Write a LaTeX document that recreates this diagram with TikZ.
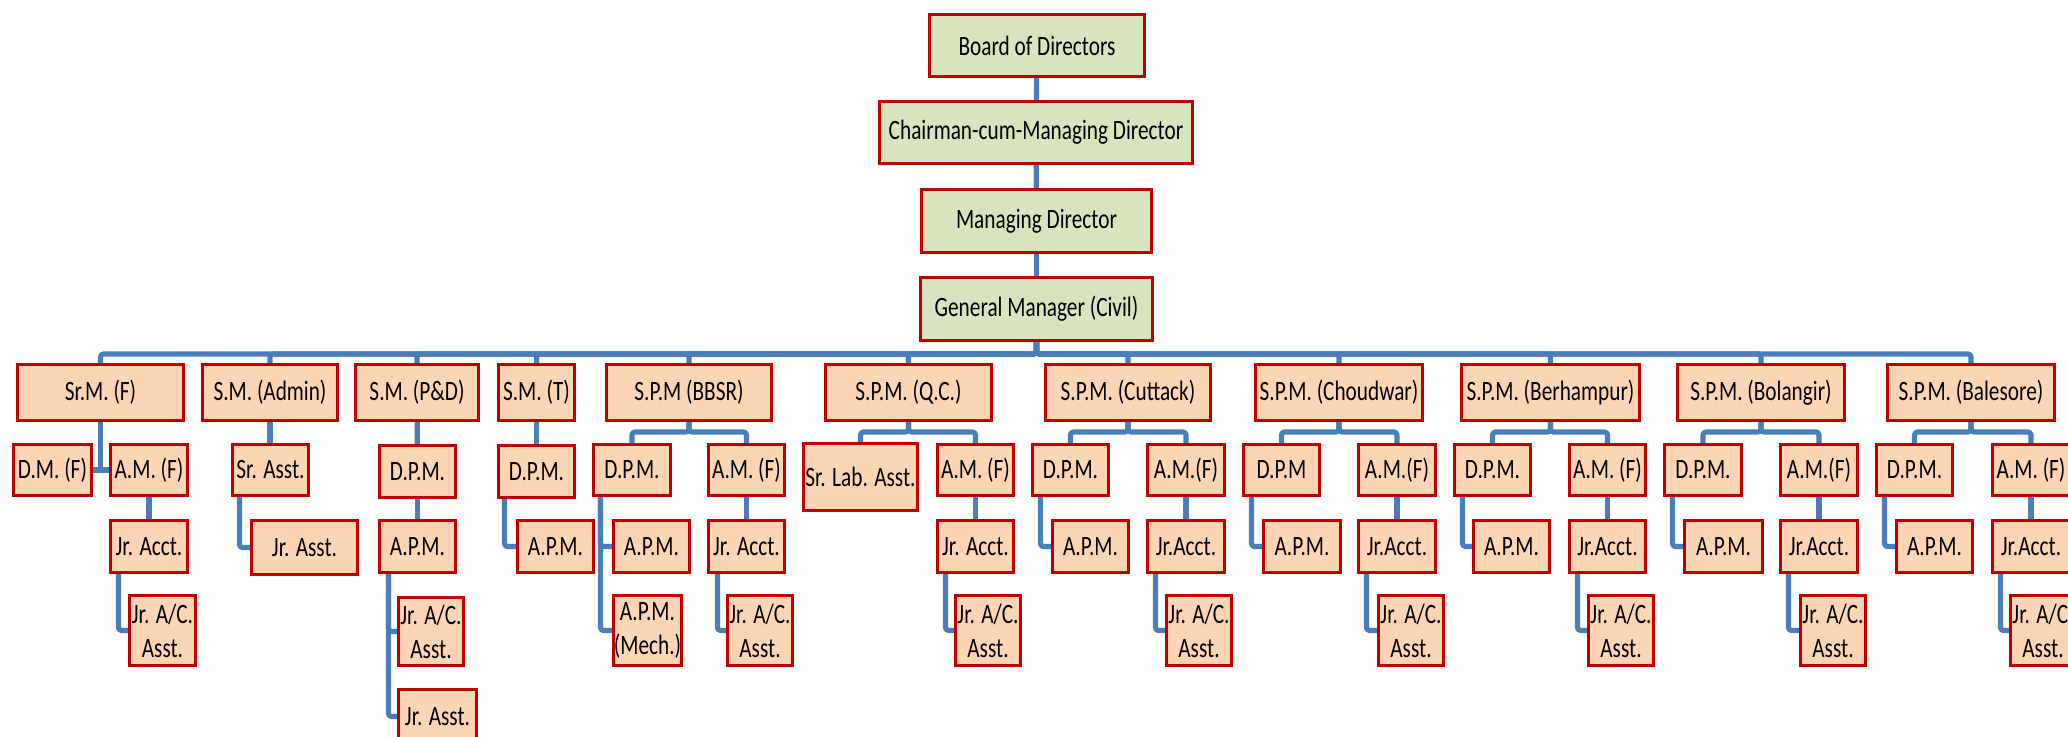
\documentclass[tikz,border=0pt]{standalone}
\usepackage{fontspec}
\setmainfont{Carlito}[FakeStretch=0.76]
\usetikzlibrary{backgrounds}
\definecolor{linkblue}{HTML}{4A7EBB}
\definecolor{boxred}{HTML}{C00000}
\definecolor{peach}{HTML}{FCD5B5}
\definecolor{sage}{HTML}{D7E4BD}
\tikzset{
  unit/.style={draw=boxred, line width=3pt, inner sep=0pt, outer sep=0pt,
    align=center, font=\fontsize{28}{34}\selectfont},
  staff/.style={unit, fill=peach},
  board/.style={unit, fill=sage},
  link/.style={draw=linkblue, line width=5.2pt, rounded corners=3pt, line join=round},
}
% \unitbox{style}{name}{left}{top}{right}{bottom}{text}
\newcommand\unitbox[7]{%
  \node[#1, minimum width={#5-#3-3}, minimum height={#6-#4-3}]
    (#2) at ({(#3+#5)/2},{(#4+#6)/2}) {#7};}
\begin{document}
\begin{tikzpicture}[x=1pt,y=-1pt]
\useasboundingbox (0,0) rectangle (2068,736);
\clip (0,0) rectangle (2068,736);
\coordinate (bus) at (0,354);
\coordinate (fork) at (0,432);

% top of the hierarchy
\unitbox{board}{bd}{928}{13}{1146}{78}{Board of Directors}
\unitbox{board}{cmd}{878}{100}{1194}{165}{Chairman-cum-Managing Director}
\unitbox{board}{md}{920}{188}{1153}{254}{Managing Director}
\unitbox{board}{gm}{919}{276}{1154}{342}{General Manager (Civil)}

% senior managers
\unitbox{staff}{srmf}{16}{363}{185}{422}{Sr.M. (F)}
\unitbox{staff}{smadmin}{201}{363}{339}{422}{S.M. (Admin)}
\unitbox{staff}{smpd}{354}{363}{480}{422}{S.M. (P\&D)}
\unitbox{staff}{smt}{497}{363}{576}{422}{S.M. (T)}
\unitbox{staff}{bbsr}{605}{363}{773}{422}{S.P.M (BBSR)}
\unitbox{staff}{qc}{824}{363}{993}{422}{S.P.M. (Q.C.)}
\unitbox{staff}{cut}{1044}{363}{1212}{422}{S.P.M. (Cuttack)}
\unitbox{staff}{chd}{1254}{363}{1424}{422}{S.P.M. (Choudwar)}
\unitbox{staff}{ber}{1460}{363}{1641}{422}{S.P.M. (Berhampur)}
\unitbox{staff}{bol}{1676}{363}{1846}{422}{S.P.M. (Bolangir)}
\unitbox{staff}{bal}{1886}{363}{2056}{422}{S.P.M. (Balesore)}

% Sr.M. (F)
\unitbox{staff}{dmf}{12}{443}{93}{497}{D.M. (F)}
\unitbox{staff}{amf1}{109}{443}{189}{497}{A.M. (F)}
\unitbox{staff}{ja1}{109}{519}{189}{574}{Jr. Acct.}
\unitbox{staff}{jac1}{128}{594}{197}{667}{Jr. A/C.\\Asst.}

% S.M. (Admin)
\unitbox{staff}{sra}{231}{443}{310}{497}{Sr. Asst.}
\unitbox{staff}{jra1}{250}{519}{359}{576}{Jr. Asst.}

% S.M. (P&D)
\unitbox{staff}{dpm3}{378}{444}{457}{499}{D.P.M.}
\unitbox{staff}{apm3}{378}{519}{457}{574}{A.P.M.}
\unitbox{staff}{jac3}{397}{596}{465}{667}{Jr. A/C.\\Asst.}
\unitbox{staff}{jra3}{397}{688}{478}{745}{Jr. Asst.}

% S.M. (T)
\unitbox{staff}{dpm4}{497}{444}{576}{499}{D.P.M.}
\unitbox{staff}{apm4}{516}{519}{595}{574}{A.P.M.}

% S.P.M (BBSR)
\unitbox{staff}{dpm5}{592}{443}{672}{497}{D.P.M.}
\unitbox{staff}{amf5}{707}{443}{786}{497}{A.M. (F)}
\unitbox{staff}{apm5}{612}{519}{691}{574}{A.P.M.}
\unitbox{staff}{apmm5}{612}{594}{683}{667}{A.P.M.\\(Mech.)}
\unitbox{staff}{ja5}{707}{519}{786}{574}{Jr. Acct.}
\unitbox{staff}{jac5}{726}{594}{794}{667}{Jr. A/C.\\Asst.}

% S.P.M. (Q.C.)
\unitbox{staff}{sla}{802}{442}{919}{512}{Sr. Lab. Asst.}
\unitbox{staff}{amf6}{936}{443}{1015}{497}{A.M. (F)}
\unitbox{staff}{ja6}{936}{519}{1015}{574}{Jr. Acct.}
\unitbox{staff}{jac6}{954}{594}{1022}{667}{Jr. A/C.\\Asst.}

% S.P.M. (Cuttack)
\unitbox{staff}{dpm7}{1031}{443}{1110}{497}{D.P.M.}
\unitbox{staff}{amf7}{1146}{443}{1226}{497}{A.M.(F)}
\unitbox{staff}{apm7}{1051}{519}{1130}{574}{A.P.M.}
\unitbox{staff}{ja7}{1146}{519}{1226}{574}{Jr.Acct.}
\unitbox{staff}{jac7}{1165}{594}{1233}{667}{Jr. A/C.\\Asst.}

% S.P.M. (Choudwar)
\unitbox{staff}{dpm8}{1242}{443}{1321}{497}{D.P.M}
\unitbox{staff}{amf8}{1357}{443}{1437}{497}{A.M.(F)}
\unitbox{staff}{apm8}{1262}{519}{1342}{574}{A.P.M.}
\unitbox{staff}{ja8}{1357}{519}{1437}{574}{Jr.Acct.}
\unitbox{staff}{jac8}{1377}{594}{1445}{667}{Jr. A/C.\\Asst.}

% S.P.M. (Berhampur)
\unitbox{staff}{dpm9}{1453}{443}{1532}{497}{D.P.M.}
\unitbox{staff}{amf9}{1568}{443}{1647}{497}{A.M. (F)}
\unitbox{staff}{apm9}{1472}{519}{1551}{574}{A.P.M.}
\unitbox{staff}{ja9}{1568}{519}{1647}{574}{Jr.Acct.}
\unitbox{staff}{jac9}{1587}{594}{1655}{667}{Jr. A/C.\\Asst.}

% S.P.M. (Bolangir)
\unitbox{staff}{dpm10}{1663}{443}{1743}{497}{D.P.M.}
\unitbox{staff}{amf10}{1779}{443}{1859}{497}{A.M.(F)}
\unitbox{staff}{apm10}{1683}{519}{1764}{574}{A.P.M.}
\unitbox{staff}{ja10}{1779}{519}{1859}{574}{Jr.Acct.}
\unitbox{staff}{jac10}{1799}{594}{1867}{667}{Jr. A/C.\\Asst.}

% S.P.M. (Balesore)
\unitbox{staff}{dpm11}{1875}{443}{1954}{497}{D.P.M.}
\unitbox{staff}{amf11}{1991}{443}{2071}{497}{A.M. (F)}
\unitbox{staff}{apm11}{1895}{519}{1974}{574}{A.P.M.}
\unitbox{staff}{ja11}{1991}{519}{2071}{574}{Jr.Acct.}
\unitbox{staff}{jac11}{2009}{594}{2077}{667}{Jr. A/C.\\Asst.}

\begin{scope}[on background layer]
  % chain of command
  \draw[link] (bd) -- (cmd);
  \draw[link] (cmd) -- (md);
  \draw[link] (md) -- (gm);
  % bus to the senior managers
  \foreach \s in {srmf,smadmin,smpd,smt,bbsr,qc,cut,chd,ber,bol,bal}
    \draw[link] (gm) -- (gm |- bus) -| (\s);

  % Sr.M. (F)
  \draw[link] (srmf) -- (srmf |- dmf);
  \draw[link] (dmf) -- (amf1);
  \draw[link] (amf1) -- (ja1);
  \draw[link] ([xshift=8pt]ja1.west) |- (jac1);

  % S.M. (Admin)
  \draw[link] (smadmin) -- (smadmin |- sra);
  \draw[link] ([xshift=7pt]sra.west) |- (jra1);

  % S.M. (P&D)
  \draw[link] (smpd) -- (dpm3);
  \draw[link] (dpm3) -- (apm3);
  \draw[link] ([xshift=9pt]apm3.west) |- (jac3);
  \draw[link] ([xshift=9pt]apm3.west) |- (jra3);

  % S.M. (T)
  \draw[link] (smt) -- (dpm4);
  \draw[link] ([xshift=6pt]dpm4.west) |- (apm4);

  % S.P.M. offices with two branches
  \foreach \p/\l/\r in {bbsr/dpm5/amf5, qc/sla/amf6, cut/dpm7/amf7,
      chd/dpm8/amf8, ber/dpm9/amf9, bol/dpm10/amf10, bal/dpm11/amf11} {
    \draw[link] (\p) -- (\p |- fork) -| (\l);
    \draw[link] (\p) -- (\p |- fork) -| (\r);
  }

  % BBSR
  \draw[link] ([xshift=7pt]dpm5.west) |- (apm5);
  \draw[link] ([xshift=7pt]dpm5.west) |- (apmm5);
  \draw[link] (amf5) -- (ja5);
  \draw[link] ([xshift=9pt]ja5.west) |- (jac5);

  % accounts lines and planning lines of the other offices
  \foreach \a/\j/\c in {amf6/ja6/jac6, amf7/ja7/jac7, amf8/ja8/jac8,
      amf9/ja9/jac9, amf10/ja10/jac10, amf11/ja11/jac11} {
    \draw[link] (\a) -- (\j);
    \draw[link] ([xshift=8pt]\j.west) |- (\c);
  }
  \foreach \d/\m in {dpm7/apm7, dpm8/apm8, dpm9/apm9, dpm10/apm10, dpm11/apm11}
    \draw[link] ([xshift=8pt]\d.west) |- (\m);
\end{scope}
\end{tikzpicture}
\end{document}
